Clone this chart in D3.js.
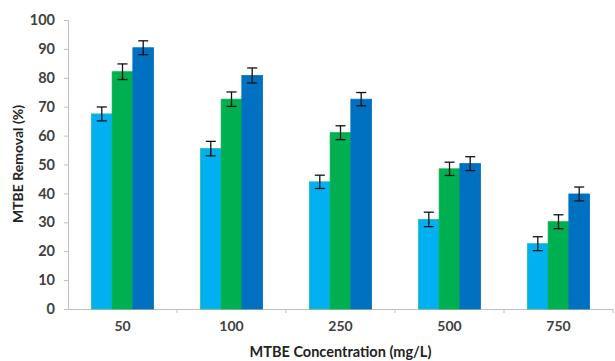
<!DOCTYPE html>
<html><head><meta charset="utf-8">
<script src="https://cdn.jsdelivr.net/npm/d3@7"></script>
<style>body{margin:0;background:#fff}svg{display:block}</style>
</head><body><svg id="c" width="615" height="361"></svg>
<script>
const categories = ["50","100","250","500","750"];
const seriesNames = ["s1","s2","s3"];
const series1 = [67.5, 55.5, 44.0, 31.0, 22.6];
const series2 = [82.1, 72.6, 61.0, 48.5, 30.2];
const series3 = [90.4, 80.8, 72.6, 50.3, 39.8];
const err1 = [2.4, 2.5, 2.3, 2.5, 2.4];
const err2 = [2.7, 2.5, 2.4, 2.3, 2.4];
const err3 = [2.4, 2.6, 2.3, 2.4, 2.4];
const yTicks = [0,10,20,30,40,50,60,70,80,90,100];
const colors = ["#00b0f0","#00b050","#0070c0"];

const svg = d3.select("#c");
const L = 68, R = 613, T = 20, B = 309;
const x = d3.scaleBand().domain(categories).range([L, R]).paddingInner(0).paddingOuter(0);
const y = d3.scaleLinear().domain([0,100]).range([B, T]);
const barW = 20.7;
const vals = [series1, series2, series3];
const errs = [err1, err2, err3];
const FONT = "Lato, 'Open Sans', sans-serif";

// axes
const yAxis = svg.append("g").attr("transform", `translate(${L},0)`)
  .call(d3.axisLeft(y).tickValues(yTicks).tickSize(4).tickPadding(9));
yAxis.select(".domain").attr("stroke", "#bfbfbf");
yAxis.selectAll(".tick line").attr("stroke", "#bfbfbf");
yAxis.selectAll("text").attr("font-family",FONT).attr("font-weight","bold")
  .attr("font-size","14.5px").attr("fill","#404040");

const xAxis = svg.append("g").attr("transform", `translate(0,${B})`)
  .call(d3.axisBottom(x).tickSize(0).tickPadding(12));
xAxis.select(".domain").attr("stroke", "#bfbfbf");
xAxis.selectAll("text").attr("font-family",FONT).attr("font-weight","bold")
  .attr("font-size","14px").attr("fill","#404040");
// boundary ticks
svg.append("g").selectAll("line").data(categories.slice(1).concat(["end"])).join("line")
  .attr("x1", (d,i)=> L + x.bandwidth()*(i+1)).attr("x2", (d,i)=> L + x.bandwidth()*(i+1))
  .attr("y1", B).attr("y2", B+4).attr("stroke","#bfbfbf");

// bars
vals.forEach((arr, s) => {
  const g = svg.append("g");
  g.selectAll("rect").data(arr).join("rect")
    .attr("x", (d,i)=> x(categories[i]) + x.bandwidth()/2 - 1.5*barW + s*barW)
    .attr("y", d => y(d))
    .attr("width", barW)
    .attr("height", d => B - y(d))
    .attr("fill", colors[s])
    .attr("stroke", s===0 ? "#20c0a0" : colors[s]).attr("stroke-width", 0.8);
});
// error bars
vals.forEach((arr, s) => {
  const g = svg.append("g").attr("stroke","#111").attr("stroke-width",1.3);
  arr.forEach((d,i) => {
    const cx = x(categories[i]) + x.bandwidth()/2 - 1.5*barW + s*barW + barW/2;
    const e = errs[s][i];
    g.append("line").attr("x1",cx).attr("x2",cx).attr("y1",y(d+e)).attr("y2",y(d-e));
    g.append("line").attr("x1",cx-5).attr("x2",cx+5).attr("y1",y(d+e)).attr("y2",y(d+e));
    g.append("line").attr("x1",cx-5).attr("x2",cx+5).attr("y1",y(d-e)).attr("y2",y(d-e));
  });
});

svg.append("text").attr("x", (L+R)/2).attr("y", 357).attr("text-anchor","middle")
  .attr("font-family",FONT).attr("font-weight","bold").attr("font-size","14.5px")
  .attr("fill","#222").text("MTBE Concentration (mg/L)");
svg.append("text").attr("transform","translate(23,164) rotate(-90)").attr("text-anchor","middle")
  .attr("font-family",FONT).attr("font-weight","bold").attr("font-size","14px")
  .attr("fill","#222").text("MTBE Removal (%)");
</script></body></html>
